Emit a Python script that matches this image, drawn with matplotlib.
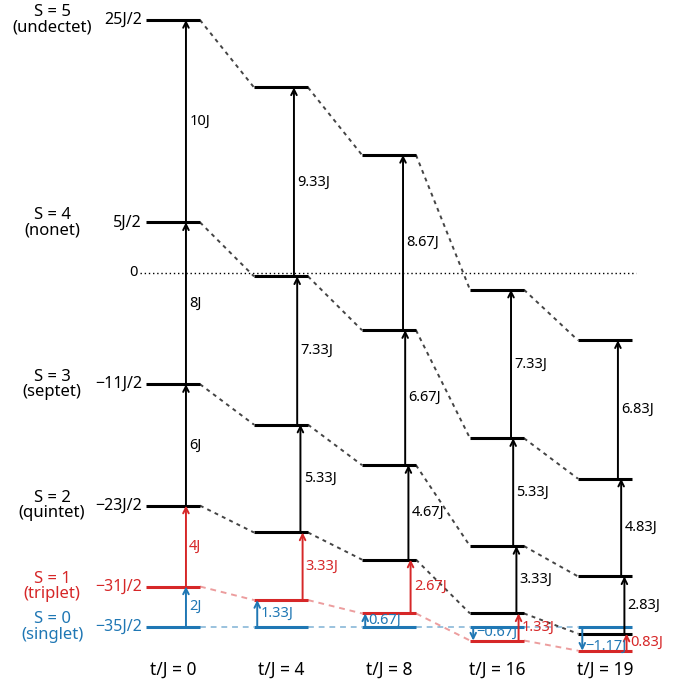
import matplotlib
matplotlib.use("Agg")
import matplotlib.pyplot as plt

plt.rcParams['font.family'] = ['Noto Sans', 'DejaVu Sans']

# columns (t/J values)
t_vals = [0, 4, 8, 16, 19]

# energies (in units of J), one list per spin state
E_singlet = [-17.5, -17.5, -17.5, -17.5, -17.5]
E_triplet = [-15.5, -16.17, -16.83, -18.17, -18.67]
E_quintet = [-11.5, -12.83, -14.17, -16.83, -17.83]
E_septet = [-5.5, -7.5, -9.5, -13.5, -15.0]
E_nonet = [2.5, -0.17, -2.83, -8.17, -10.17]
E_undectet = [12.5, 9.17, 5.83, -0.83, -3.33]

# gap labels per column
gap_01 = ["2J", "1.33J", "0.67J", "\u22120.67J", "\u22121.17J"]
gap_13 = ["4J", "3.33J", "2.67J", "1.33J", "0.83J"]
gap_35 = ["6J", "5.33J", "4.67J", "3.33J", "2.83J"]
gap_57 = ["8J", "7.33J", "6.67J", "5.33J", "4.83J"]
gap_79 = ["10J", "9.33J", "8.67J", "7.33J", "6.83J"]

# left-hand labels
state_names = ["S = 0\n(singlet)", "S = 1\n(triplet)", "S = 2\n(quintet)",
               "S = 3\n(septet)", "S = 4\n(nonet)", "S = 5\n(undectet)"]
energy_labels = ["\u221235J/2", "\u221231J/2", "\u221223J/2",
                 "\u221211J/2", "5J/2", "25J/2"]

RED = '#d62728'
BLUE = '#1f77b4'
BLACK = 'black'

levels = [E_singlet, E_triplet, E_quintet, E_septet, E_nonet, E_undectet]
colors = [BLUE, RED, BLACK, BLACK, BLACK, BLACK]

fig = plt.figure(figsize=(6.96, 6.81), dpi=100)
ax = fig.add_axes([0, 0, 1, 1])
ax.set_xlim(-1.602, 4.843)
ax.set_ylim(-20.17, 13.49)
ax.axis('off')

hw = 0.25  # half width of a level
xs = list(range(len(t_vals)))

# zero line
ax.plot([-0.306, 4.287], [0, 0], color='black', lw=1.0, ls=(0, (1, 2)), zorder=1)
ax.text(-0.33, 0, "0", ha='right', va='center', fontsize=10.5)

# connectors between columns
for E, c in zip(levels, colors):
    for i in range(len(xs) - 1):
        if c == BLACK:
            ax.plot([xs[i] + hw, xs[i + 1] - hw], [E[i], E[i + 1]],
                    color='#444444', lw=1.4, ls=(0, (2, 2.2)), zorder=1)
        else:
            ax.plot([xs[i] + hw, xs[i + 1] - hw], [E[i], E[i + 1]],
                    color=c, alpha=0.45, lw=1.4, ls=(0, (3, 2.5)), zorder=1)

# levels
for E, c in zip(levels, colors):
    for i in xs:
        ax.plot([xs[i] - hw, xs[i] + hw], [E[i], E[i]], color=c, lw=2.2,
                solid_capstyle='butt', zorder=3)


def arrow(x, y0, y1, color, label, dy_lab=0.0):
    ax.annotate('', xy=(x, y1), xytext=(x, y0),
                arrowprops=dict(arrowstyle='->', color=color, lw=1.4,
                                shrinkA=0, shrinkB=0, mutation_scale=10),
                zorder=4)
    ax.text(x + 0.03, (y0 + y1) / 2 + dy_lab, label, color=color,
            fontsize=10.5, ha='left', va='center', zorder=5)


# arrow x offsets (column units) from each column centre
off_79 = [0.12, 0.12, 0.13, 0.13, 0.12]
off_57 = [0.12, 0.15, 0.15, 0.15, 0.15]
off_35 = [0.12, 0.18, 0.18, 0.18, 0.18]
off_13 = [0.12, 0.20, 0.20, 0.20, 0.20]
off_01 = [0.12, -0.22, -0.22, -0.22, -0.21]
lab_shift_01 = [0, 0, 0, 0.05, -0.38]

for i in xs:
    arrow(xs[i] + off_79[i], E_nonet[i], E_undectet[i], BLACK, gap_79[i])
    arrow(xs[i] + off_57[i], E_septet[i], E_nonet[i], BLACK, gap_57[i])
    arrow(xs[i] + off_35[i], E_quintet[i], E_septet[i], BLACK, gap_35[i])
    arrow(xs[i] + off_13[i], E_triplet[i], E_quintet[i], RED, gap_13[i])
    arrow(xs[i] + off_01[i], E_singlet[i], E_triplet[i], BLUE, gap_01[i],
          lab_shift_01[i])

# left labels
for E, c, nm, el in zip(levels, colors, state_names, energy_labels):
    ax.text(-0.287, E[0], el, ha='right', va='center', fontsize=11.5, color=c)
    ax.text(-1.12, E[0], nm, ha='center', va='center', fontsize=12,
            color=c, linespacing=0.95)

# bottom labels
for i, t in enumerate(t_vals):
    ax.text(xs[i], -19.63, f"t/J = {t}", ha='center', va='center', fontsize=12.5)

fig.savefig("out.png", dpi=100)
